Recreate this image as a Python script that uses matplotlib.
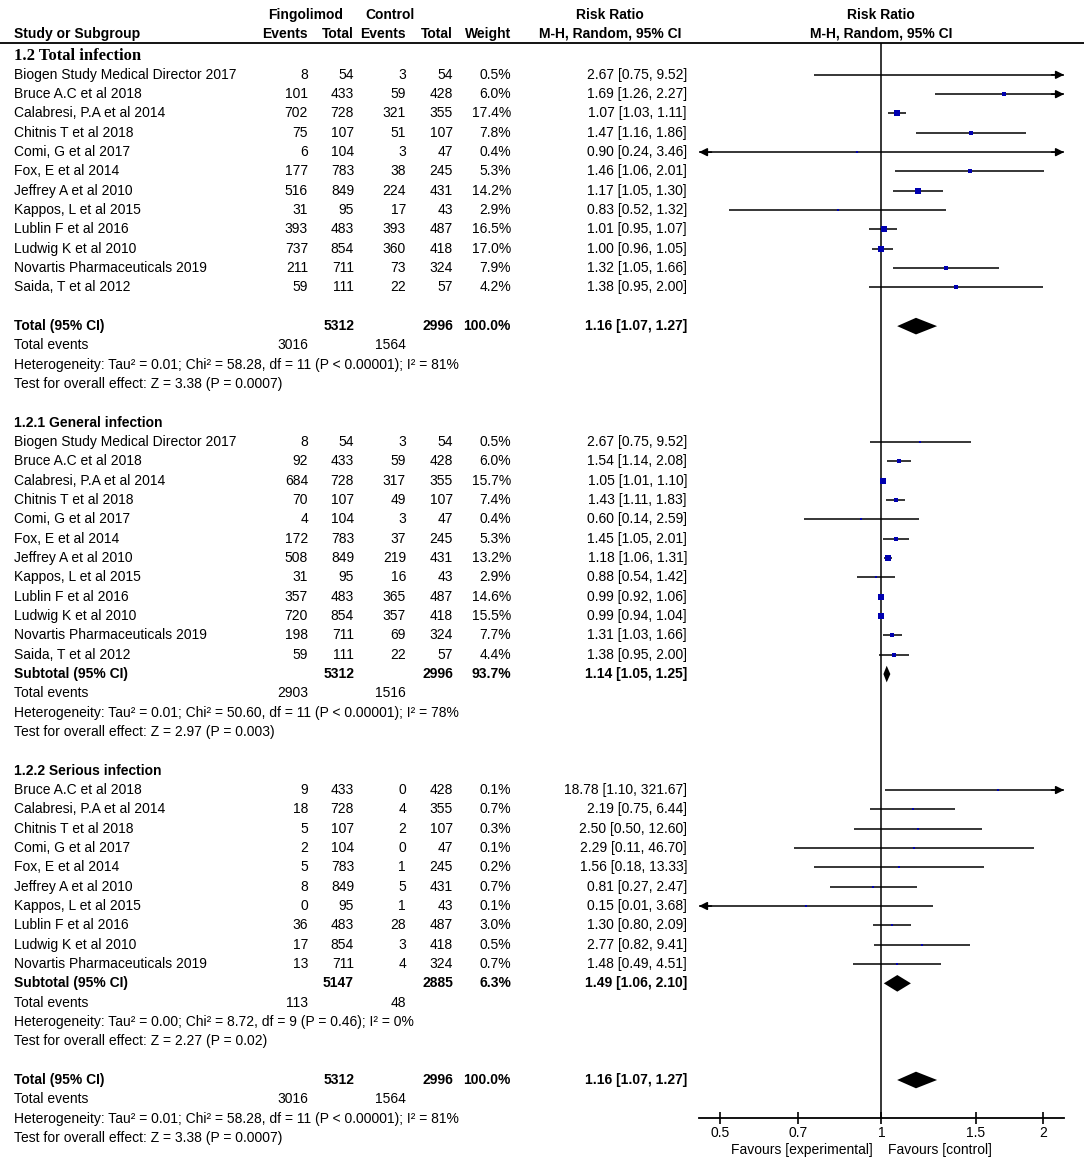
import matplotlib.pyplot as plt
import numpy as np
from matplotlib.ticker import NullLocator

plt.rcParams['font.family'] = ['Liberation Sans', 'DejaVu Sans']

# ---- data ----
names_all = ["Biogen Study Medical Director 2017", "Bruce A.C et al 2018", "Calabresi, P.A et al 2014",
             "Chitnis T et al 2018", "Comi, G et al 2017", "Fox, E et al 2014", "Jeffrey A et al 2010",
             "Kappos, L et al 2015", "Lublin F et al 2016", "Ludwig K et al 2010",
             "Novartis Pharmaceuticals 2019", "Saida, T et al 2012"]

# 1.2 Total infection
tot_ev1 = [8, 101, 702, 75, 6, 177, 516, 31, 393, 737, 211, 59]
tot_n1 = [54, 433, 728, 107, 104, 783, 849, 95, 483, 854, 711, 111]
tot_ev2 = [3, 59, 321, 51, 3, 38, 224, 17, 393, 360, 73, 22]
tot_n2 = [54, 428, 355, 107, 47, 245, 431, 43, 487, 418, 324, 57]
tot_w = [0.5, 6.0, 17.4, 7.8, 0.4, 5.3, 14.2, 2.9, 16.5, 17.0, 7.9, 4.2]
tot_rr = [2.67, 1.69, 1.07, 1.47, 0.90, 1.46, 1.17, 0.83, 1.01, 1.00, 1.32, 1.38]
tot_lo = [0.75, 1.26, 1.03, 1.16, 0.24, 1.06, 1.05, 0.52, 0.95, 0.96, 1.05, 0.95]
tot_hi = [9.52, 2.27, 1.11, 1.86, 3.46, 2.01, 1.30, 1.32, 1.07, 1.05, 1.66, 2.00]

# 1.2.1 General infection
gen_ev1 = [8, 92, 684, 70, 4, 172, 508, 31, 357, 720, 198, 59]
gen_ev2 = [3, 59, 317, 49, 3, 37, 219, 16, 365, 357, 69, 22]
gen_w = [0.5, 6.0, 15.7, 7.4, 0.4, 5.3, 13.2, 2.9, 14.6, 15.5, 7.7, 4.4]
gen_rr = [2.67, 1.54, 1.05, 1.43, 0.60, 1.45, 1.18, 0.88, 0.99, 0.99, 1.31, 1.38]
gen_lo = [0.75, 1.14, 1.01, 1.11, 0.14, 1.05, 1.06, 0.54, 0.92, 0.94, 1.03, 0.95]
gen_hi = [9.52, 2.08, 1.10, 1.83, 2.59, 2.01, 1.31, 1.42, 1.06, 1.04, 1.66, 2.00]

# 1.2.2 Serious infection
ser_names = names_all[1:11]
ser_ev1 = [9, 18, 5, 2, 5, 8, 0, 36, 17, 13]
ser_n1 = tot_n1[1:11]
ser_ev2 = [0, 4, 2, 0, 1, 5, 1, 28, 3, 4]
ser_n2 = tot_n2[1:11]
ser_w = [0.1, 0.7, 0.3, 0.1, 0.2, 0.7, 0.1, 3.0, 0.5, 0.7]
ser_rr = [18.78, 2.19, 2.50, 2.29, 1.56, 0.81, 0.15, 1.30, 2.77, 1.48]
ser_lo = [1.10, 0.75, 0.50, 0.11, 0.18, 0.27, 0.01, 0.80, 0.82, 0.49]
ser_hi = [321.67, 6.44, 12.60, 46.70, 13.33, 2.47, 3.68, 2.09, 9.41, 4.51]

# pooled results: (label, n1, n2, weight, rr, lo, hi, events1, events2, heterogeneity, overall test)
pooled_tot = ("Total (95% CI)", 5312, 2996, 100.0, 1.16, 1.07, 1.27, 3016, 1564,
              "Heterogeneity: Tau² = 0.01; Chi² = 58.28, df = 11 (P < 0.00001); I² = 81%",
              "Test for overall effect: Z = 3.38 (P = 0.0007)")
pooled_gen = ("Subtotal (95% CI)", 5312, 2996, 93.7, 1.14, 1.05, 1.25, 2903, 1516,
              "Heterogeneity: Tau² = 0.01; Chi² = 50.60, df = 11 (P < 0.00001); I² = 78%",
              "Test for overall effect: Z = 2.97 (P = 0.003)")
pooled_ser = ("Subtotal (95% CI)", 5147, 2885, 6.3, 1.49, 1.06, 2.10, 113, 48,
              "Heterogeneity: Tau² = 0.00; Chi² = 8.72, df = 9 (P = 0.46); I² = 0%",
              "Test for overall effect: Z = 2.27 (P = 0.02)")

ticks = [0.5, 0.7, 1, 1.5, 2]
lim_narrow = (0.457, 2.19)
lim_wide = (0.01, 100)

# ---- layout ----
W, H = 1084, 1165
y0, dy = 55.5, 19.33


def prow(ypx):
    return (ypx - y0) / dy


fig = plt.figure(figsize=(W / 100, H / 100), dpi=100)
ax_t = fig.add_axes([0, 0, 1, 1])
ax_t.set_xlim(0, W)
ax_t.set_ylim(prow(H), prow(0))
ax_t.axis('off')

pos = [699 / W, 1 - 1118 / H, 365 / W, (1118 - 43) / H]
ax_a = fig.add_axes(pos)
ax_b = fig.add_axes(pos)
for ax, lim in ((ax_a, lim_narrow), (ax_b, lim_wide)):
    ax.set_xscale('log')
    ax.set_xlim(*lim)
    ax.set_ylim(prow(1118), prow(43))
    ax.patch.set_visible(False)
    for s in ('top', 'right', 'left'):
        ax.spines[s].set_visible(False)
    ax.set_yticks([])
    ax.xaxis.set_minor_locator(NullLocator())
ax_b.spines['bottom'].set_visible(False)
ax_b.set_xticks([])
ax_a.set_xticks(ticks)
ax_a.set_xticklabels([f"{t:g}" for t in ticks])
ax_a.spines['bottom'].set_linewidth(1.3)
ax_a.tick_params(axis='x', direction='inout', length=9, width=1.2, labelsize=10, pad=1)
ax_a.axvline(1, color='black', lw=1.1)

ax_t.axhline(prow(43), color='black', lw=1.3)

FS = 10
cx = dict(name=14, ev1=308, n1=354, ev2=406, n2=453, w=511, rr=687)
SQ = '#0000b0'


def txt(x, r, s, ha='right', bold=False, **kw):
    ax_t.text(x, r, s, ha=ha, va='center', fontsize=FS,
              fontweight='bold' if bold else 'normal', **kw)


def arrow(ax, x, r, d):
    ax.annotate('', xy=(x, r), xytext=(-9 * d, 0), textcoords='offset points',
                annotation_clip=False,
                arrowprops=dict(arrowstyle='-|>,head_length=0.6,head_width=0.3',
                                mutation_scale=8, color='black', lw=1.1,
                                shrinkA=0, shrinkB=0))


def study(ax, r, name, e1, n1, e2, n2, w, rr, lo, hi):
    txt(cx['name'], r, name, ha='left')
    txt(cx['ev1'], r, str(e1))
    txt(cx['n1'], r, str(n1))
    txt(cx['ev2'], r, str(e2))
    txt(cx['n2'], r, str(n2))
    txt(cx['w'], r, f"{w:.1f}%")
    txt(cx['rr'], r, f"{rr:.2f} [{lo:.2f}, {hi:.2f}]")
    xmin, xmax = ax.get_xlim()
    ax.plot([max(lo, xmin), min(hi, xmax)], [r, r], color='black', lw=1.1,
            solid_capstyle='butt')
    if hi >= xmax:
        arrow(ax, xmax, r, 1)
    if lo <= xmin:
        arrow(ax, xmin, r, -1)
    side = max(2.2, 1.5 * np.sqrt(w)) * 0.72
    ax.plot(rr, r, marker='s', ms=side, color=SQ, mew=0)


def pooled(ax, r, p):
    label, n1, n2, w, rr, lo, hi, e1, e2, het, test = p
    txt(cx['name'], r, label, ha='left', bold=True)
    txt(cx['n1'], r, str(n1), bold=True)
    txt(cx['n2'], r, str(n2), bold=True)
    txt(cx['w'], r, f"{w:.1f}%", bold=True)
    txt(cx['rr'], r, f"{rr:.2f} [{lo:.2f}, {hi:.2f}]", bold=True)
    h = 0.43
    ax.fill([lo, rr, hi, rr], [r, r - h, r, r + h], color='black', lw=0)
    txt(cx['name'], r + 1, "Total events", ha='left')
    txt(cx['ev1'], r + 1, str(e1))
    txt(cx['ev2'], r + 1, str(e2))
    txt(cx['name'], r + 2, het, ha='left')
    txt(cx['name'], r + 3, test, ha='left')


# ---- header ----
rh1, rh2 = prow(15), prow(34)
txt(306, rh1, "Fingolimod", ha='center', bold=True)
txt(390, rh1, "Control", ha='center', bold=True)
txt(610, rh1, "Risk Ratio", ha='center', bold=True)
txt(881, rh1, "Risk Ratio", ha='center', bold=True)
txt(cx['name'], rh2, "Study or Subgroup", ha='left', bold=True)
txt(cx['ev1'], rh2, "Events", bold=True)
txt(cx['n1'], rh2, "Total", bold=True)
txt(cx['ev2'], rh2, "Events", bold=True)
txt(cx['n2'], rh2, "Total", bold=True)
txt(cx['w'], rh2, "Weight", bold=True)
txt(610, rh2, "M-H, Random, 95% CI", ha='center', bold=True)
txt(881, rh2, "M-H, Random, 95% CI", ha='center', bold=True)

# ---- 1.2 Total infection ----
r = 0
ax_t.text(cx['name'], r, "1.2 Total infection", ha='left', va='center', fontsize=12,
          fontweight='bold', family=['Liberation Serif', 'DejaVu Serif'])
for i in range(len(names_all)):
    r += 1
    study(ax_a, r, names_all[i], tot_ev1[i], tot_n1[i], tot_ev2[i], tot_n2[i],
          tot_w[i], tot_rr[i], tot_lo[i], tot_hi[i])
r += 2
pooled(ax_a, r, pooled_tot)

# ---- 1.2.1 General infection ----
r += 5
txt(cx['name'], r, "1.2.1 General infection", ha='left', bold=True)
for i in range(len(names_all)):
    r += 1
    study(ax_b, r, names_all[i], gen_ev1[i], tot_n1[i], gen_ev2[i], tot_n2[i],
          gen_w[i], gen_rr[i], gen_lo[i], gen_hi[i])
r += 1
pooled(ax_b, r, pooled_gen)

# ---- 1.2.2 Serious infection ----
r += 5
txt(cx['name'], r, "1.2.2 Serious infection", ha='left', bold=True)
for i in range(len(ser_names)):
    r += 1
    study(ax_b, r, ser_names[i], ser_ev1[i], ser_n1[i], ser_ev2[i], ser_n2[i],
          ser_w[i], ser_rr[i], ser_lo[i], ser_hi[i])
r += 1
pooled(ax_b, r, pooled_ser)

# ---- overall ----
r += 5
pooled(ax_a, r, pooled_tot)

txt(873, prow(1150), "Favours [experimental]", ha='right')
txt(888, prow(1150), "Favours [control]", ha='left')

fig.savefig('out.png', dpi=100)
